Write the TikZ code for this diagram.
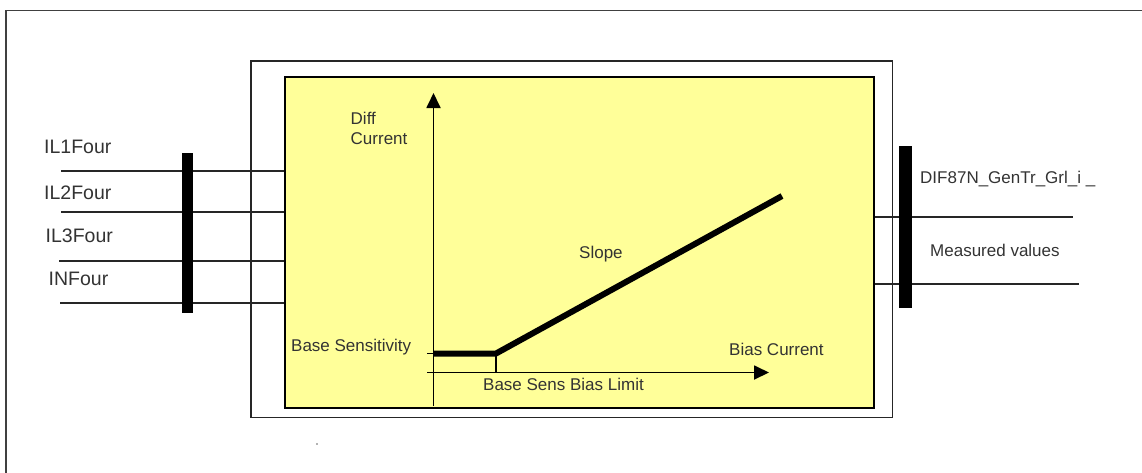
\documentclass[tikz,border=0pt]{standalone}
\usepackage{fontspec}
\setmainfont{Liberation Sans}
\usetikzlibrary{arrows.meta}
\definecolor{yfill}{HTML}{FFFF99}
\definecolor{txt}{HTML}{333333}
\definecolor{framec}{HTML}{404040}
\tikzset{
  biglbl/.style={font=\fontsize{19.5}{23}\selectfont, text=txt, anchor=base west, inner sep=0},
  lbl/.style={font=\fontsize{17}{20}\selectfont, text=txt, anchor=base west, inner sep=0},
  bus/.style={draw=none, fill=black, inner sep=0, anchor=north west},
  wire/.style={draw=black!85, line width=1.4},
  axisline/.style={draw=black, line width=1.8},
  curve/.style={draw=black, line width=6, line join=miter},
}
\begin{document}
\begin{tikzpicture}[x=1pt,y=-1pt]
\useasboundingbox (0,0) rectangle (1142,472);
% page frame
\coordinate (fbl) at (6,480);
\coordinate (ftl) at (6,10.5);
\coordinate (ftr) at (1150,10.5);
\draw[framec, line width=1.3] (fbl) -- (ftl) -- (ftr);
% boxes
\node[draw=black!85, line width=1.8, inner sep=0, anchor=north west,
      minimum width=641.5, minimum height=356.5] (ob) at (250,60) {};
% input wires
\coordinate (in1) at (61,171);
\coordinate (in2) at (61,212);
\coordinate (in3) at (59,261);
\coordinate (in4) at (60,303);
\coordinate (out1) at (1073,217);
\coordinate (out2) at (1079,284);
\node[draw=black, line width=2, fill=yfill, inner sep=0, anchor=north west,
      minimum width=588.5, minimum height=330.5] (fb) at (284,76) {};
\foreach \c in {in1,in2,in3,in4} \draw[wire] (\c) -- (\c -| fb.west);
\draw[wire] (fb.east |- out1) -- (out1);
\draw[wire] (fb.east |- out2) -- (out2);
% buses
\node[bus, minimum width=11, minimum height=160] (lbar) at (182,153) {};
\node[bus, minimum width=12.5, minimum height=162] (rbar) at (899,146) {};
% labels
\node[biglbl] (l1) at (44,153.3) {IL1Four};
\node[biglbl] (l2) at (44,199) {IL2Four};
\node[biglbl] (l3) at (45.5,242.7) {IL3Four};
\node[biglbl] (l4) at (48.5,285) {INFour};
\node[lbl] (o1) at (920,183.3) {DIF87N\_GenTr\_Grl\_i \_};
\node[lbl] (o2) at (930,256.7) {Measured values};
% graph
\coordinate (ybot) at (433.5,406);
\coordinate (ytop) at (433.5,93);
\coordinate (xl) at (427,372.5);
\coordinate (xr) at (769,372.5);
\draw[axisline, -{Triangle[length=15, width=14]}] (ybot) -- (ytop);
\draw[axisline, -{Triangle[length=15, width=14]}] (xl) -- (xr);
\coordinate (b0) at (433.5,353.5);
\coordinate (knee) at (496,353.5);
\coordinate (send) at (782,196);
\coordinate (tick) at (427,353.5);
\draw[line width=1.5] (tick) -- (b0);
\draw[line width=1.5] (knee) -- (knee |- xl);
\draw[curve] (b0) -- (knee) -- (send);
\node[lbl] (d1) at (350.5,124) {Diff};
\node[lbl] (d2) at (350.5,144) {Current};
\node[lbl] (sl) at (579,258) {Slope};
\node[lbl] (bs) at (291,351.7) {Base Sensitivity};
\node[lbl] (bc) at (729,355) {Bias Current};
\node[lbl] (bl) at (483,390) {Base Sens Bias Limit};
\fill[black!60] (317,444) circle (0.8);
\end{tikzpicture}
\end{document}
